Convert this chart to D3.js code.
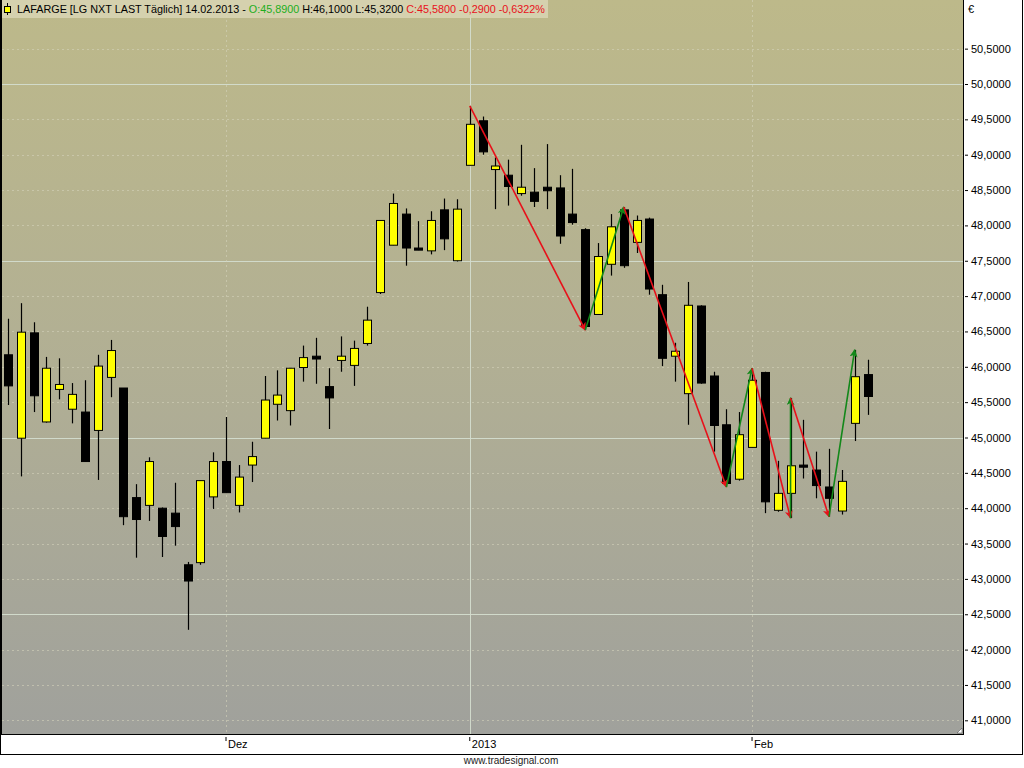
<!DOCTYPE html>
<html>
<head>
<meta charset="utf-8">
<script src="https://cdn.jsdelivr.net/npm/d3@7"></script>
<style>
  html, body { margin: 0; padding: 0; background: #fff; }
  svg { display: block; font-family: "Liberation Sans", Arial, sans-serif; }
</style>
</head>
<body>
<svg id="chart" width="1024" height="768"></svg>
<script>
// ---- data ----
const dates = [
  "2012-11-08","2012-11-09","2012-11-12","2012-11-13","2012-11-14","2012-11-15","2012-11-16",
  "2012-11-19","2012-11-20","2012-11-21","2012-11-22","2012-11-23","2012-11-26","2012-11-27",
  "2012-11-28","2012-11-29","2012-11-30",
  "2012-12-03","2012-12-04","2012-12-05","2012-12-06","2012-12-07","2012-12-10","2012-12-11",
  "2012-12-12","2012-12-13","2012-12-14","2012-12-17","2012-12-18","2012-12-19","2012-12-20",
  "2012-12-21","2012-12-24","2012-12-27","2012-12-28","2012-12-31",
  "2013-01-02","2013-01-03","2013-01-04","2013-01-07","2013-01-08","2013-01-09","2013-01-10",
  "2013-01-11","2013-01-14","2013-01-15","2013-01-16","2013-01-17","2013-01-18","2013-01-21",
  "2013-01-22","2013-01-23","2013-01-24","2013-01-25","2013-01-28","2013-01-29","2013-01-30",
  "2013-01-31",
  "2013-02-01","2013-02-04","2013-02-05","2013-02-06","2013-02-07","2013-02-08","2013-02-11",
  "2013-02-12","2013-02-13","2013-02-14"
];
const opens = [46.17,44.99,46.48,45.22,45.68,45.40,45.36,45.10,45.85,45.70,44.15,44.04,44.00,43.93,43.20,43.23,44.16,
  44.66,44.04,44.61,44.99,45.47,45.38,45.99,46.15,45.72,46.09,46.02,46.33,47.05,47.72,48.16,47.68,47.64,48.22,47.50,
  48.85,49.48,48.79,48.71,48.45,48.47,48.54,48.53,48.16,47.94,46.74,47.45,48.22,47.76,48.09,47.02,46.15,45.62,46.86,45.87,45.18,44.41,
  44.86,45.92,43.97,44.21,44.61,44.54,44.30,43.96,45.20,45.89];
const highs = [46.68,46.90,46.63,46.14,46.12,45.77,45.81,46.17,46.38,45.70,44.34,44.72,44.01,44.36,43.24,44.39,44.79,
  45.29,44.61,44.94,45.87,45.95,45.98,46.30,46.41,45.98,46.43,46.37,46.85,48.07,48.45,48.24,48.06,48.20,48.38,48.37,
  49.69,49.54,48.96,48.93,49.14,48.81,49.15,48.71,48.80,47.96,47.75,48.16,48.26,48.14,48.11,47.16,46.34,47.20,46.87,45.93,45.40,45.36,
  45.98,45.93,44.67,45.56,45.25,44.80,44.84,44.54,46.24,46.10];
const lows = [45.46,44.45,45.36,45.21,45.54,45.20,44.66,44.40,45.57,43.76,43.30,43.82,43.31,43.47,42.28,43.20,43.99,
  44.22,43.94,44.37,44.99,45.24,45.17,45.79,45.76,45.12,45.93,45.73,46.30,47.03,47.72,47.43,47.65,47.59,47.65,47.49,
  48.85,49.00,48.23,48.28,48.42,48.26,48.23,47.74,48.01,46.52,46.74,47.29,47.40,47.61,47.02,46.01,45.79,45.18,45.76,44.80,44.30,44.39,
  44.86,43.93,43.95,43.86,44.42,44.14,43.88,43.91,44.95,45.32];
const closes = [45.73,46.49,45.59,45.98,45.75,45.61,44.66,46.01,46.23,43.88,43.84,44.66,43.60,43.74,42.97,44.39,44.66,
  44.22,44.44,44.73,45.53,45.60,45.98,46.13,46.11,45.56,46.15,46.26,46.66,48.07,48.31,47.68,47.65,48.07,47.81,48.23,
  49.43,49.04,48.84,48.55,48.54,48.34,48.49,47.85,48.04,46.57,47.56,47.98,47.43,48.07,47.10,46.12,46.22,46.87,45.77,45.17,44.35,45.04,
  45.81,44.09,44.21,44.60,44.58,44.32,44.14,44.38,45.86,45.58];

// zigzag (trend arrows) pivots: bar index and price
const zigIdx = [36, 45, 48, 56, 58, 61, 61, 64, 66];
const zigVal = [49.69, 46.52, 48.26, 44.30, 45.98, 43.86, 45.56, 43.88, 46.24];

const yTicks = [41,41.5,42,42.5,43,43.5,44,44.5,45,45.5,46,46.5,47,47.5,48,48.5,49,49.5,50,50.5];
const monthTicks = [{date:"2012-12-03", label:"Dez", solid:false},
                    {date:"2013-01-02", label:"2013", solid:true},
                    {date:"2013-02-01", label:"Feb", solid:false}];

// ---- layout ----
const W = 1024, H = 768;
const plot = {l: 2, r: 963, t: 0, b: 734};
const svg = d3.select("#chart");
const step = 12.83;
const x = d3.scaleBand().domain(dates)
  .range([7.9 - step/2, 7.9 - step/2 + dates.length*step])
  .paddingInner(0.3).paddingOuter(0.15);
const cx = d => x(d) + x.bandwidth()/2;
const y = d3.scaleLinear().domain([41, 50]).range([84 + 9*70.7, 84]);

const defs = svg.append("defs");
const grad = defs.append("linearGradient").attr("id","bg").attr("x1",0).attr("y1",0).attr("x2",0).attr("y2",1);
grad.append("stop").attr("offset","0%").attr("stop-color","#bdb98a");
grad.append("stop").attr("offset","50%").attr("stop-color","#b1af94");
grad.append("stop").attr("offset","100%").attr("stop-color","#a0a19c");
defs.append("clipPath").attr("id","clip").append("rect")
  .attr("x",plot.l).attr("y",plot.t).attr("width",plot.r-plot.l).attr("height",plot.b-plot.t);

function arrowMarker(id, color){
  defs.append("marker").attr("id",id).attr("viewBox","0 0 10 10")
    .attr("refX",9).attr("refY",5).attr("markerWidth",8).attr("markerHeight",8)
    .attr("markerUnits","userSpaceOnUse").attr("orient","auto")
    .append("path").attr("d","M0,0 L10,5 L0,10 L2.5,5 z").attr("fill",color);
}
arrowMarker("arrRed","#e8101a");
arrowMarker("arrGreen","#13881a");

svg.append("rect").attr("width",W).attr("height",H).attr("fill","#fff");
svg.append("rect").attr("x",plot.l).attr("y",plot.t).attr("width",plot.r-plot.l).attr("height",plot.b-plot.t)
  .attr("fill","url(#bg)");

const g = svg.append("g").attr("clip-path","url(#clip)");

// horizontal grid
yTicks.forEach(v => {
  const solid = Math.abs(v/2.5 - Math.round(v/2.5)) < 1e-6;
  g.append("line").attr("x1",plot.l).attr("x2",plot.r)
    .attr("y1",Math.round(y(v))+0.5).attr("y2",Math.round(y(v))+0.5)
    .attr("stroke", solid ? "#d3dccd" : "#d4d2bb")
    .attr("stroke-opacity", solid ? 0.95 : 0.6)
    .attr("stroke-dasharray", solid ? null : "2,3")
    .attr("stroke-width",1);
});
// vertical month lines
monthTicks.forEach(m => {
  const xx = Math.round(cx(m.date)) + 0.5;
  g.append("line").attr("x1",xx).attr("x2",xx).attr("y1",plot.t).attr("y2",plot.b)
    .attr("stroke", m.solid ? "#d3dccd" : "#d4d2bb")
    .attr("stroke-opacity", m.solid ? 0.95 : 0.6)
    .attr("stroke-dasharray", m.solid ? null : "2,3");
});

// candles
const bars = dates.map((d,i) => ({d, o:opens[i], h:highs[i], l:lows[i], c:closes[i]}));
const cg = g.append("g");
cg.selectAll("line.wick").data(bars).join("line").attr("class","wick")
  .attr("x1",b => Math.round(cx(b.d))+0.5).attr("x2",b => Math.round(cx(b.d))+0.5)
  .attr("y1",b => y(b.h)).attr("y2",b => y(b.l))
  .attr("stroke","#000").attr("stroke-width",1.2);
const bw = 8;
cg.selectAll("rect.body").data(bars).join("rect").attr("class","body")
  .attr("x",b => Math.round(cx(b.d)) - bw/2 + 0.5)
  .attr("y",b => y(Math.max(b.o,b.c)))
  .attr("width",bw)
  .attr("height",b => Math.max(1.5, Math.abs(y(b.o)-y(b.c))))
  .attr("fill",b => b.c >= b.o ? "#ffff00" : "#000")
  .attr("stroke","#000").attr("stroke-width",1);

// zigzag arrows
for (let k = 0; k < zigIdx.length-1; k++){
  const x1 = cx(dates[zigIdx[k]]), y1 = y(zigVal[k]);
  const x2 = cx(dates[zigIdx[k+1]]), y2 = y(zigVal[k+1]);
  const up = zigVal[k+1] > zigVal[k];
  g.append("line").attr("x1",x1).attr("y1",y1).attr("x2",x2).attr("y2",y2)
    .attr("stroke", up ? "#13881a" : "#e8101a").attr("stroke-width",1.6)
    .attr("marker-end", up ? "url(#arrGreen)" : "url(#arrRed)");
}

// plot border
svg.append("rect").attr("x",0).attr("y",0).attr("width",2).attr("height",plot.b).attr("fill","#000");
svg.append("line").attr("x1",0).attr("x2",plot.r).attr("y1",plot.b+0.5).attr("y2",plot.b+0.5).attr("stroke","#000");
svg.append("line").attr("x1",plot.r+0.5).attr("x2",plot.r+0.5).attr("y1",0).attr("y2",plot.b+1).attr("stroke","#000");
// outer frame
svg.append("line").attr("x1",0).attr("x2",1022).attr("y1",754.5).attr("y2",754.5).attr("stroke","#000");
svg.append("line").attr("x1",0.5).attr("x2",0.5).attr("y1",734).attr("y2",755).attr("stroke","#000");
svg.append("line").attr("x1",1022.5).attr("x2",1022.5).attr("y1",0).attr("y2",755).attr("stroke","#000");
// small resize glyph
svg.append("path").attr("d",`M${plot.r-6},${plot.b-1} L${plot.r-1},${plot.b-6} L${plot.r-1},${plot.b-1} Z`)
  .attr("fill","#fff").attr("stroke","#555").attr("stroke-width",0.6);

// y axis
const yAxisG = svg.append("g").attr("transform",`translate(${plot.r},0)`);
const yAxis = d3.axisRight(y).tickValues(yTicks).tickSize(4).tickPadding(3)
  .tickFormat(v => d3.format(".4f")(v).replace(".", ","));
yAxisG.call(yAxis);
yAxisG.select(".domain").remove();
yAxisG.selectAll(".tick line").attr("x1",2).attr("x2",5).attr("stroke","#000");
yAxisG.selectAll(".tick text").attr("x",8).attr("font-size",11)
  .attr("font-family","'Liberation Sans', Arial, sans-serif").attr("fill","#000");
svg.append("text").attr("x",968).attr("y",13).attr("font-size",11).attr("fill","#000").text("€");

// x axis
const xAxisG = svg.append("g").attr("transform",`translate(0,${plot.b})`);
const xAxis = d3.axisBottom(x).tickValues(monthTicks.map(m => m.date)).tickSize(4).tickPadding(2)
  .tickFormat(d => monthTicks.find(m => m.date === d).label);
xAxisG.call(xAxis);
xAxisG.select(".domain").remove();
xAxisG.selectAll(".tick line").attr("y1",3).attr("y2",7).attr("stroke","#000");
xAxisG.selectAll(".tick text").attr("text-anchor","start").attr("x",2).attr("y",6).attr("dy","0.71em")
  .attr("font-size",11).attr("font-family","'Liberation Sans', Arial, sans-serif").attr("fill","#000");

// footer
svg.append("text").attr("x",511).attr("y",764).attr("text-anchor","middle")
  .attr("font-size",10).attr("fill","#222").text("www.tradesignal.com");

// header
svg.append("rect").attr("x",2).attr("y",0).attr("width",546).attr("height",18).attr("fill","#d9d5b4").attr("fill-opacity",0.85);
// icon (small candle)
svg.append("line").attr("x1",7.5).attr("x2",7.5).attr("y1",3).attr("y2",15).attr("stroke","#000");
svg.append("rect").attr("x",4.5).attr("y",6.5).attr("width",6).attr("height",6).attr("fill","#ffff00").attr("stroke","#000");
const ht = svg.append("text").attr("x",17).attr("y",13).attr("font-size",11)
  .attr("textLength",528).attr("lengthAdjust","spacingAndGlyphs").attr("fill","#000");
ht.append("tspan").text("LAFARGE [LG NXT LAST Täglich]  14.02.2013 - ");
ht.append("tspan").attr("fill","#1cae1c").text("O:45,8900 ");
ht.append("tspan").attr("fill","#000").text("H:46,1000 L:45,3200 ");
ht.append("tspan").attr("fill","#e8101a").text("C:45,5800 -0,2900 -0,6322%");
</script>
</body>
</html>
